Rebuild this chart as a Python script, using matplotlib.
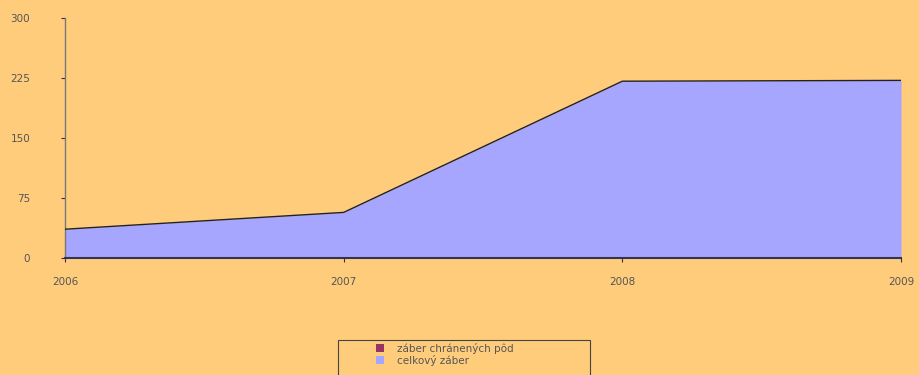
import matplotlib
matplotlib.use("Agg")
import matplotlib.pyplot as plt
from matplotlib.patches import Patch, Rectangle

years = [2006, 2007, 2008, 2009]
total_take = [36, 57, 221, 222]
protected_take = [0.6, 0.6, 0.6, 0.6]
y_ticks = [0, 75, 150, 225, 300]
series_names = ["záber chránených pôd", "celkový záber"]

bg = "#FFCC7C"
fill_total = "#A6A6FF"
fill_protected = "#993366"
text_col = "#555555"

fig = plt.figure(figsize=(9.19, 3.75), dpi=100, facecolor=bg)
ax = fig.add_axes([65 / 919, 117 / 375, (901 - 65) / 919, (258 - 18) / 375])
ax.set_facecolor(bg)

ax.fill_between(years, 0, total_take, color=fill_total, lw=0, zorder=2)
ax.plot(years, total_take, color="#222222", lw=1.0, zorder=3)
ax.fill_between(years, 0, protected_take, color=fill_protected, lw=0, zorder=4)
ax.plot([years[-1], years[-1]], [0, total_take[-1]], color="#8888CC", lw=0.8, zorder=3)

ax.set_xlim(years[0], years[-1])
ax.set_ylim(0, 300)
ax.set_xticks(years)
ax.set_yticks(y_ticks)
ax.set_xticklabels([str(y) for y in years])
ax.set_yticklabels([str(v) for v in y_ticks])

for side in ("top", "right"):
    ax.spines[side].set_visible(False)
ax.spines["left"].set_color("#777777")
ax.spines["left"].set_linewidth(1.0)
ax.spines["bottom"].set_color("#333355")
ax.spines["bottom"].set_linewidth(1.5)
ax.tick_params(axis="both", direction="out", length=3, width=0.8,
               colors="#333333", labelcolor=text_col, labelsize=7.5)
ax.tick_params(axis="y", pad=22)
ax.tick_params(axis="x", pad=11)
for lbl in ax.get_yticklabels():
    lbl.set_horizontalalignment("right")

# legend box at the bottom, running past the lower figure edge
fig.patches.append(Rectangle((338 / 919, -0.05), 252 / 919, (375 - 340) / 375 + 0.05,
                             transform=fig.transFigure, facecolor="none",
                             edgecolor="#444444", lw=0.8, clip_on=False))
handles = [Patch(facecolor=fill_protected, edgecolor="none"),
           Patch(facecolor=fill_total, edgecolor="none")]
fig.legend(handles, series_names, loc="upper left",
           bbox_to_anchor=(376 / 919, (375 - 343) / 375), frameon=False,
           fontsize=7.5, labelcolor=text_col, handlelength=0.8,
           handleheight=0.8, handletextpad=1.2, labelspacing=0.05,
           borderpad=0, borderaxespad=0)

fig.savefig("out.png", dpi=100, facecolor=bg)
